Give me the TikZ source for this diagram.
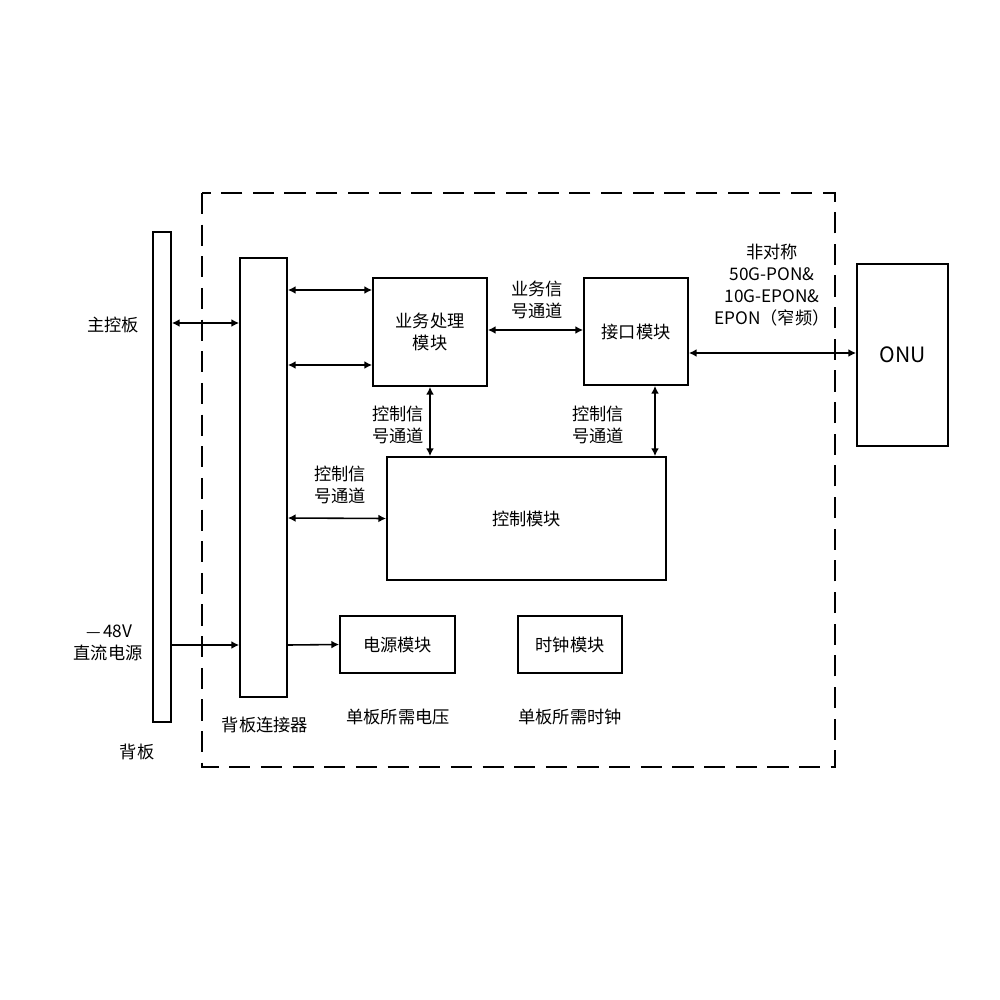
\documentclass[tikz,border=0pt]{standalone}
\usepackage{fontspec}
\setmainfont{Noto Sans CJK SC}
\usetikzlibrary{arrows.meta}
\begin{document}
\begin{tikzpicture}[x=0.01cm,y=-0.01cm,font=\fontsize{4.9}{6.2}\selectfont,
   line width=0.45pt,
   box/.style={draw,inner sep=0pt},
   lbl/.style={align=center,inner sep=0pt},
   link/.style={{Latex[length=2.2pt,width=2.2pt]}-{Latex[length=2.2pt,width=2.2pt]}},
   feed/.style={-{Latex[length=2.2pt,width=2.2pt]}}]
 \useasboundingbox (0,0) rectangle (1000,1000);
 % frame
 \draw[dash pattern=on 6pt off 3pt] (202,193) rectangle (835,767);
 % bars
 \node[box,minimum width=0.18cm,minimum height=4.9cm] (bp) at (162,477) {};
 \node[box,minimum width=0.47cm,minimum height=4.39cm] (bc) at (263.5,477.5) {};
 \node[lbl] (bplbl) at (137,752) {背板};
 \node[lbl] (bclbl) at (265,725) {背板连接器};
 \node[lbl] (main) at (113,325) {主控板};
 \node[lbl] (pwr) at (108,643) {$-$48V\\直流电源};
 % modules
 \node[box,minimum width=1.14cm,minimum height=1.08cm,lbl] (svc) at (430,332) {业务处理\\模块};
 \node[box,minimum width=1.04cm,minimum height=1.07cm] (ifm) at (636,331.5) {接口模块};
 \node[box,minimum width=0.91cm,minimum height=1.82cm,font=\fontsize{6}{7}\selectfont] (onu) at (902.5,355) {ONU};
 \node[box,minimum width=2.79cm,minimum height=1.23cm] (ctl) at (526.5,518.5) {控制模块};
 \node[box,minimum width=1.15cm,minimum height=0.57cm] (psu) at (397.5,644.5) {电源模块};
 \node[box,minimum width=1.04cm,minimum height=0.57cm] (clk) at (570,644.5) {时钟模块};
 \node[lbl] (psulbl) at (398,717) {单板所需电压};
 \node[lbl] (clklbl) at (570,717) {单板所需时钟};
 % channel labels
 \node[lbl] (svcch) at (537,300) {业务信\\号通道};
 \node[lbl] (ponlbl) at (772,285) {非对称\\50G-PON\&\\10G-EPON\&\\EPON（窄频）};
 \node[lbl] (ctlch1) at (398,425) {控制信\\号通道};
 \node[lbl] (ctlch2) at (598,425) {控制信\\号通道};
 \node[lbl] (ctlch3) at (340,485) {控制信\\号通道};
 % links
 \draw[link] (bp.east |- 0,323) -- (bc.west |- 0,323);
 \draw[link] (bc.east |- 0,290) -- (svc.west |- 0,290);
 \draw[link] (bc.east |- 0,365) -- (svc.west |- 0,365);
 \draw[link] (svc.east |- 0,330) -- (ifm.west |- 0,330);
 \draw[link] (ifm.east |- 0,353) -- (onu.west |- 0,353);
 \draw[link] (svc.south -| 430,0) -- (ctl.north -| 430,0);
 \draw[link] (ifm.south -| 655,0) -- (ctl.north -| 655,0);
 \draw[link] (bc.east |- 0,518) -- (ctl.west);
 \draw[feed] (bp.east |- 0,645) -- (bc.west |- 0,645);
 \draw[feed] (bc.east |- 0,645) -- (psu.west);
\end{tikzpicture}
\end{document}
